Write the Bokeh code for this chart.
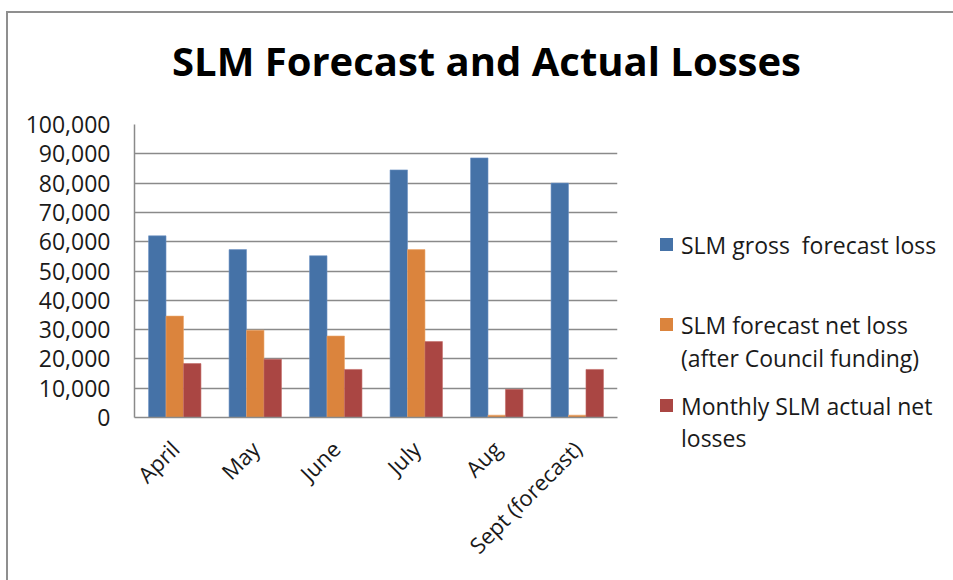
import math
from bokeh.plotting import figure
from bokeh.layouts import row, column
from bokeh.models import (FactorRange, Range1d, NumeralTickFormatter, SingleIntervalTicker,
                          ColumnDataSource, Div)
from bokeh.transform import dodge
from bokeh.embed import file_html
from bokeh.resources import INLINE

title_text = "SLM Forecast and Actual Losses"
months = ["April", "May", "June", "July", "Aug", "Sept (forecast)"]
gross_forecast = [62000, 57300, 55200, 84500, 88600, 80000]
net_forecast = [34600, 29800, 27800, 57300, 800, 800]
actual_net = [18400, 19900, 16400, 25900, 9600, 16400]
series_lines = [["SLM gross  forecast loss"],
                ["SLM forecast net loss", "(after Council funding)"],
                ["Monthly SLM actual net", "losses"]]
colors = ["#4572A7", "#DB843D", "#AA4643"]
edges = ["#6f93c4", "#eba56a", "#c26a67"]

src = ColumnDataSource(dict(month=months, gross=gross_forecast, net=net_forecast, actual=actual_net))

FONT = "Open Sans"
TH = 100           # title strip height
PW, PH = 620, 480  # chart figure
LW = 333           # legend strip width

title_div = Div(
    text=('<div style="position:absolute; left:172px; top:41px; white-space:nowrap; '
          'font-family:\'Open Sans\'; font-size:40px; font-weight:bold; line-height:1; color:#000;">'
          + title_text + '</div>'),
    width=PW + LW, height=TH, margin=0)

p = figure(x_range=FactorRange(*months), y_range=Range1d(0, 100000),
           width=PW, height=PH, output_backend="svg", toolbar_location=None,
           min_border_left=134, min_border_right=3, min_border_top=24, min_border_bottom=163)
p.border_fill_alpha = 0

bw = 0.217
fields = ["gross", "net", "actual"]
for i, f in enumerate(fields):
    p.vbar(x=dodge("month", (i - 1) * bw, range=p.x_range), top=f, width=bw, source=src,
           fill_color=colors[i], line_color=edges[i], line_width=0.6)

p.outline_line_color = None
p.xgrid.grid_line_color = None
p.ygrid.grid_line_color = "#8a8a8a"
p.ygrid.grid_line_width = 1.5

p.yaxis.ticker = SingleIntervalTicker(interval=10000)
p.yaxis.formatter = NumeralTickFormatter(format="0,0")
p.yaxis.major_label_text_font = FONT
p.yaxis.major_label_text_font_size = "23px"
p.yaxis.major_label_text_color = "#1a1a1a"
p.yaxis.axis_line_color = "#8a8a8a"
p.yaxis.axis_line_width = 1.5
p.yaxis.major_tick_line_color = None
p.yaxis.minor_tick_line_color = None
p.yaxis.major_label_standoff = 18

p.xaxis.major_label_orientation = math.pi / 4
p.xaxis.major_label_text_font = FONT
p.xaxis.major_label_text_font_size = "22px"
p.xaxis.major_label_text_color = "#1a1a1a"
p.xaxis.axis_line_color = "#8a8a8a"
p.xaxis.axis_line_width = 1.5
p.xaxis.major_tick_line_color = None
p.xaxis.minor_tick_line_color = None
p.xaxis.major_label_standoff = 21

# legend strip (HTML): swatch + label per series
item_tops = [129, 209, 290]   # px from the strip's top, first text line
line_hs = [32, 33, 32]
parts = []
for lines, col, top, lh in zip(series_lines, colors, item_tops, line_hs):
    parts.append(f'<div style="position:absolute; left:40px; top:{top + lh // 2 - 7}px; '
                 f'width:13px; height:13px; background:{col};"></div>')
    parts.append(f'<div style="position:absolute; left:61px; top:{top}px; white-space:pre; '
                 f'font-family:\'Open Sans\'; font-size:23px; line-height:{lh}px; color:#1a1a1a;">'
                 + "<br>".join(lines) + '</div>')
legend_div = Div(text="".join(parts), width=LW, height=PH, margin=0)

layout = column(title_div, row(p, legend_div), width=PW + LW, height=TH + PH)
layout.styles = {"background": "linear-gradient(#8f8f8f,#8f8f8f) 6px 11px / 2px calc(100% - 11px) no-repeat, "
                               "linear-gradient(#8f8f8f,#8f8f8f) 6px 11px / calc(100% - 6px) 2px no-repeat"}

open("out.html", "w").write(file_html(layout, INLINE))
